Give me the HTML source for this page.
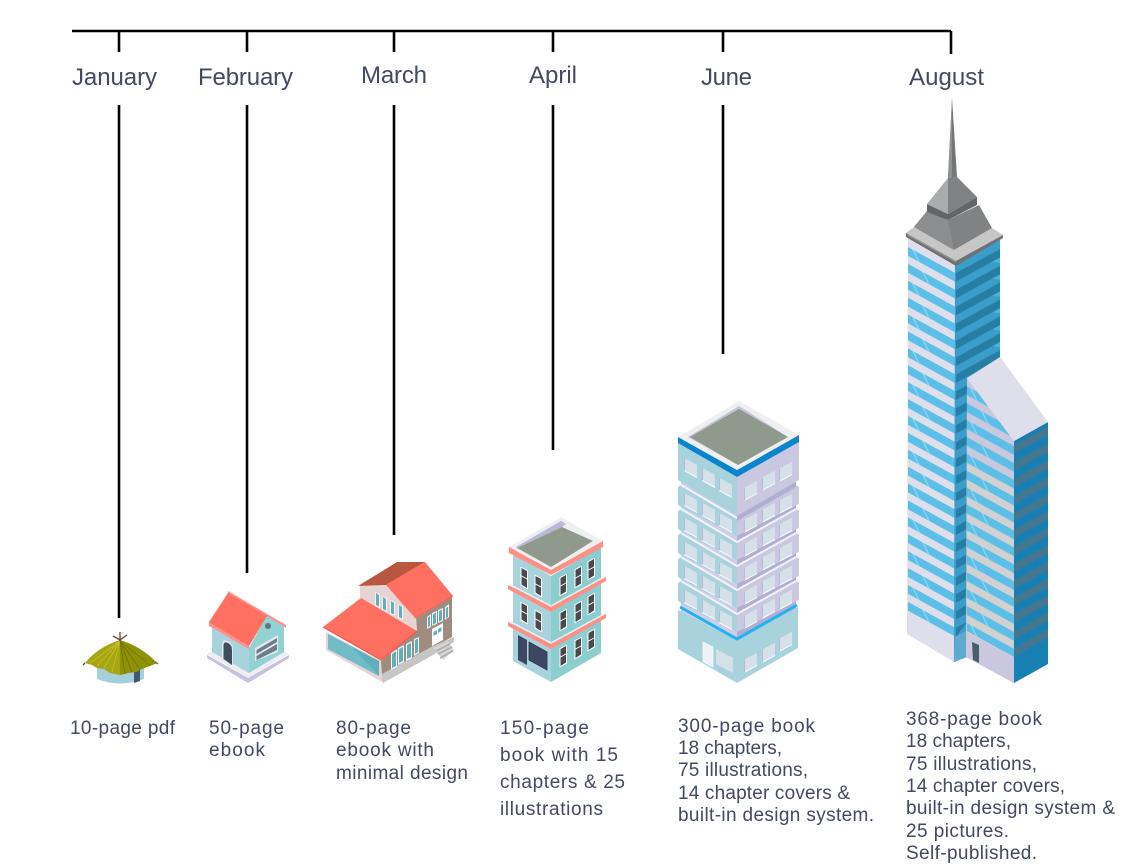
<!DOCTYPE html>
<html><head><meta charset="utf-8"><style>
html,body{margin:0;padding:0;background:#fff}
svg{display:block}
text{font-family:"Liberation Sans",sans-serif;fill:#434a60}
.m{font-size:24px}.d{font-size:19px}
</style></head><body>
<svg width="1132" height="868" viewBox="0 0 1132 868" xmlns="http://www.w3.org/2000/svg">
<defs>
<pattern id="pL" patternUnits="userSpaceOnUse" width="48" height="33.8" patternTransform="translate(908,247) skewY(28.8)">
<rect width="48" height="33.8" fill="#dfdfeb"/>
<rect y="0" width="48" height="8.8" fill="#5bbfe8"/><rect y="16.9" width="48" height="8.8" fill="#5bbfe8"/>
<polygon points="4,0 6,0 12,8.8 10,8.8" fill="#8bd6f0"/><polygon points="14,16.9 16,16.9 22,25.7 20,25.7" fill="#8bd6f0"/>
</pattern>
<pattern id="pR" patternUnits="userSpaceOnUse" width="44" height="16.9" patternTransform="translate(956,273) skewY(-28.8)">
<rect width="44" height="16.9" fill="#3a9dca"/><rect width="44" height="8.5" fill="#277ea5"/>
<polygon points="37,9 44,9 44,14" fill="#5aaed4"/>
</pattern>
<pattern id="pW" patternUnits="userSpaceOnUse" width="48" height="33.8" patternTransform="translate(967,623) skewY(28.8)">
<rect width="48" height="33.8" fill="#fff" fill-opacity="0"/>
<rect y="0" width="48" height="8.8" fill="#5bbfe8"/><rect y="16.9" width="48" height="8.8" fill="#5bbfe8"/>
<polygon points="3,0 5,0 11,8.8 9,8.8" fill="#8bd6f0"/><polygon points="14,16.9 16,16.9 22,25.7 20,25.7" fill="#8bd6f0"/>
</pattern>
<pattern id="pWR" patternUnits="userSpaceOnUse" width="34" height="16.9" patternTransform="translate(1014,648) skewY(-28.8)">
<rect width="34" height="16.9" fill="#167fb4"/><rect width="34" height="8.5" fill="#44778f"/>
</pattern>
<g id="wl"><polygon points="-0.5,-0.5 7,3.5 7,22.5 -0.5,18.5" fill="#fff"/><polygon points="0.5,1 6,4 6,21 0.5,17.500" fill="#4a4a4e"/><polygon points="0.5,8.500 6,11.500 6,12.500 0.500,9.500" fill="#fff"/></g>
<g id="wr"><polygon points="-0.5,3.5 7,-0.5 7,18.5 -0.5,22.500" fill="#fff"/><polygon points="0.5,4 6,1 6,17.500 0.500,21" fill="#4a4a4e"/><polygon points="0.5,11.500 6,8.500 6,9.500 0.500,12.500" fill="#fff"/></g>
<g id="jl"><polygon points="0,0 13,7 13,20 0,13" fill="#fff"/><polygon points="0,0 13,7 13,19 0,12" fill="#d6e0e8"/><polygon points="0,0 1,0.5 1,12.500 0,12" fill="#b9b8d8"/></g>
<g id="jr"><polygon points="0,7 13,0 13,13 0,20" fill="#fff"/><polygon points="0,7 13,0 13,12 0,19" fill="#d6e0e8"/><polygon points="0,7 1,6.5 1,19 0,20" fill="#b9b8d8"/></g>
<g id="jw"><use href="#jl" x="684" y="458"/><use href="#jl" x="702" y="468"/><use href="#jl" x="719" y="478"/><use href="#jr" x="744" y="481"/><use href="#jr" x="762" y="471"/><use href="#jr" x="779" y="462"/></g>
<g id="fl"><polygon points="678,487 681,485 737,518 737,536 681,507 678,505" fill="#a8d3dc"/><polygon points="737,518 796,485 799,487 799,504 795,506 737,536" fill="#c9c8e0"/><polyline points="681,485 737,518 796,485" fill="none" stroke="#f2f2f6" stroke-width="2"/></g>
</defs>

<!-- timeline -->
<g stroke="#000" stroke-width="2.6" fill="none">
<path d="M72 31H951"/>
<path d="M119 31V52M247 31V52M394 31V52M553 31V52M723 31V52M951 31V54"/>
<path d="M119 105V618M247 105V573M394 105V535M553 105V450M723 105V354"/>
</g>

<!-- months -->
<text class="m" x="72" y="85" textLength="85">January</text>
<text class="m" x="198" y="85" textLength="95">February</text>
<text class="m" x="361" y="83" textLength="66">March</text>
<text class="m" x="529" y="83" textLength="48">April</text>
<text class="m" x="701" y="85" textLength="51">June</text>
<text class="m" x="909" y="85" textLength="75">August</text>

<!-- hut -->
<g>
<path d="M97 668V679Q120 688 144 679V668Z" fill="#a5d0db"/>
<polygon points="134,670 140,667 140,681 134,683" fill="#44566a"/>
<path d="M120 640Q98 647 85 663L92 665L97 668L104 669L110 673L120 675L128 673L136 672L144 668L150 666L157 663Q142 647 120 640Z" fill="#a6a512"/>
<path d="M120 640L120 675L128 673L136 672L144 668L150 666L157 663Q142 647 120 640Z" fill="#8f9208"/>
<g stroke="#c4c22a" stroke-width=".8"><path d="M120 641L90 663M120 641L97 666M120 641L104 668M120 641L112 672"/></g>
<g stroke="#6f7400" stroke-width=".8"><path d="M120 641L125 674M120 641L132 672M120 641L140 669M120 641L150 665"/></g>
<g stroke="#6b4a3a" stroke-width="1.300" fill="none"><path d="M120 632V641M113 636L120 640L127 635M85 663L83 665M155 662L158 664"/></g>
</g>

<!-- february house -->
<g>
<polygon points="207,658 248,683 289,658 289,655 248,678 207,655" fill="#c5c2dc"/>
<polygon points="207,654 248,678 289,654 248,632" fill="#eeeef2"/>
<polygon points="212,628 249,648 249,673 212,652" fill="#a8d3dc"/>
<polygon points="249,648 267,615 284,627 284,652 249,673" fill="#92d2d2"/>
<path d="M222 660V644Q223 639 228 641Q233 644 233 649V666Z" fill="#e7e6ef"/>
<path d="M223.500 659V645Q224 641 228 643Q232 645 232 650V665Z" fill="#3d4f5e"/>
<polygon points="255,648 278,635 278,652 255,661" fill="#e7e6ef"/>
<polygon points="256.500,650 277,638 277,642 256.500,654" fill="#6d7d8c"/>
<polygon points="256.500,656 277,644 277,650 256.500,660" fill="#6d7d8c"/>
<circle cx="268" cy="626" r="3" fill="#5f7684"/>
<polygon points="228,591 286,625 286,628 267,616 228,594" fill="#ff8f8a"/>
<polygon points="209,621 249,645 249,649 209,626" fill="#ff8f8a"/>
<polygon points="228,593 267,616 249,646 209,622" fill="#ff7061"/>
</g>

<!-- march house -->
<g>
<polygon points="326,632 381,661 384,683 326,650" fill="#e8d3d3"/>
<polygon points="328,634 379,661 379,676 328,649" fill="#5fb0bd"/>
<polygon points="328,634 352,647 379,676 328,649" fill="#79c3cc" opacity=".7"/>
<polygon points="381,661 417,631 416,618 452,597 452,637 382,675" fill="#a08c7f"/>
<polygon points="382,674 433,646 454,637 454,642 433,655 383,683" fill="#c6c6c6"/>
<polygon points="433,648 448,641 454,650 443,660" fill="#d4d4d4"/>
<g stroke="#a9a9a9" stroke-width="1.300"><path d="M436 651L450 644M438 654L452 647M440 658L453 651"/></g>
<polygon points="432,629 443,623 443,640 432,646" fill="#fff"/>
<polygon points="433.500,632 437,630 437,634 433.500,636" fill="#5fb0bd"/><polygon points="438,629 441.500,627 441.500,631 438,633" fill="#5fb0bd"/>
<g fill="#eef3f4"><polygon points="427,617 431,614 431,627 427,629"/><polygon points="432,613 437,611 437,624 432,626"/><polygon points="438,610 443,608 443,621 438,623"/><polygon points="445,607 449,604 449,617 445,620"/></g>
<g fill="#5fb0bd"><polygon points="428,617.500 430,616 430,626 428,627.500"/><polygon points="433,614 436,612.500 436,623 433,624.500"/><polygon points="439,611 442,609.500 442,620 439,621.500"/><polygon points="446,608 448,606.500 448,617 446,618.500"/></g>
<polygon points="360,586 386,585 416,618 417,631 360,598" fill="#e8d3d3"/>
<polygon points="358,586 397,562 425,562 386,585" fill="#b9563f"/>
<polygon points="425,562 453,596 415,618 386,585" fill="#ff7061"/>
<polyline points="415,618 453,596" fill="none" stroke="#f5574a" stroke-width="1"/>
<g fill="#f2f4f5"><polygon points="375,592 380,594 380,608 375,606"/><polygon points="382,596 387,598 387,612 382,610"/><polygon points="390,600 395,602 395,616 390,614"/><polygon points="398,604 403,606 403,620 398,618"/></g>
<g fill="#5fb0bd"><polygon points="376,593 379,595 379,606.500 376,605"/><polygon points="383,597 386,599 386,610.500 383,609"/><polygon points="391,601 394,603 394,614.500 391,613"/><polygon points="399,605 402,607 402,618.500 399,617"/></g>
<g fill="#eef3f4"><polygon points="391,653 397,649 397,667 391,670"/><polygon points="398,648 404,645 404,662 398,665"/><polygon points="406,644 412,641 412,658 406,661"/><polygon points="414,639 419,637 419,653 414,656"/></g>
<g fill="#5fb0bd"><polygon points="392,654 396,651 396,666 392,668"/><polygon points="399,649 403,647 403,661 399,663"/><polygon points="407,645 411,643 411,657 407,659"/><polygon points="415,640 418,638.500 418,652 415,654"/></g>
<polygon points="361,598 417,631 381,660 323,627" fill="#ff7061"/>
<polyline points="323,627 381,660 417,631" fill="none" stroke="#f5574a" stroke-width="1.200"/>
</g>

<!-- april building -->
<g>
<polygon points="513,553 551,576 551,682 513,661" fill="#a8d3dc"/>
<polygon points="551,576 601,547 601,653 551,682" fill="#8ccdd0"/>
<polygon points="561,517 603,541 551,570 509,547" fill="#efeff1"/>
<polygon points="561,521 566,524 562,527 517,548 516,547" fill="#b9b8d8"/>
<polygon points="562,527 593,541 551,567 517,548" fill="#8f9a8d"/>
<polygon points="509,547 551,570 603,541 603,547 551,575 509,553" fill="#ff8f85"/>
<g id="ab"><polygon points="508,585 551,607 606,577 606,581 551,612 508,589" fill="#ff8f85"/><polyline points="509,584 551,606 606,576" fill="none" stroke="#eee" stroke-width="1.500"/></g>
<use href="#ab" y="37"/>
<use href="#wl" x="521" y="567"/><use href="#wl" x="535" y="575"/>
<use href="#wl" x="521" y="602"/><use href="#wl" x="535" y="610"/>
<use href="#wr" x="560" y="574"/><use href="#wr" x="575" y="566"/><use href="#wr" x="588" y="558"/>
<use href="#wr" x="560" y="609"/><use href="#wr" x="575" y="601"/><use href="#wr" x="588" y="593"/>
<use href="#wr" x="560" y="645"/><use href="#wr" x="575" y="637"/><use href="#wr" x="588" y="629"/>
<polygon points="518,635 527,640 527,665 518,660" fill="#3e4761"/>
<polygon points="529,642 547,652 547,670 529,660" fill="#3e4761" stroke="#2c3347" stroke-width=".8"/>
</g>

<!-- june building -->
<g>
<polygon points="681,480 737,512 737,645 681,615" fill="#cfcdea"/>
<polygon points="737,512 796,480 796,612 737,645" fill="#b0afd0"/>
<polygon points="678,610 737,640 798,607 798,648 737,683 678,649" fill="#a8d3dc"/>
<use href="#fl" y="96"/><use href="#fl" y="72"/><use href="#fl" y="48"/><use href="#fl" y="24"/><use href="#fl"/>
<polyline points="680,607 737,639 797,605" fill="none" stroke="#1eb4f4" stroke-width="3"/>
<polygon points="678,443 737,477 737,516 678,480" fill="#a8d3dc"/>
<polygon points="737,477 799,442 799,480 737,516" fill="#c9c8e0"/>
<polygon points="737,516 796,483 796,487 737,521" fill="#b0afd0"/>
<polygon points="739,401 799,435 737,470 678,437" fill="#efeff2"/>
<polygon points="739,406 788,437 738,465 688,437" fill="#c4c3d6"/>
<polygon points="739,409 788,437 738,465 690,437" fill="#8f9a8d"/>
<polygon points="678,437 737,470 799,435 799,442 737,477 678,443" fill="#0a84cf"/>
<polygon points="683,436 737,467 795,434 799,435 737,470 678,437" fill="#efeff2"/>
<use href="#jw"/>
<use href="#jl" x="684" y="493"/><use href="#jl" x="702" y="503"/><use href="#jl" x="719" y="513"/>
<use href="#jl" x="684" y="518"/><use href="#jl" x="702" y="528"/><use href="#jl" x="719" y="538"/>
<use href="#jl" x="684" y="542"/><use href="#jl" x="702" y="552"/><use href="#jl" x="719" y="562"/>
<use href="#jl" x="684" y="566"/><use href="#jl" x="702" y="576"/><use href="#jl" x="719" y="586"/>
<use href="#jl" x="684" y="590"/><use href="#jl" x="702" y="600"/><use href="#jl" x="719" y="610"/>
<use href="#jr" x="744" y="513"/><use href="#jr" x="762" y="503"/><use href="#jr" x="779" y="494"/>
<use href="#jr" x="744" y="537"/><use href="#jr" x="762" y="527"/><use href="#jr" x="779" y="518"/>
<use href="#jr" x="744" y="561"/><use href="#jr" x="762" y="551"/><use href="#jr" x="779" y="542"/>
<use href="#jr" x="744" y="585"/><use href="#jr" x="762" y="575"/><use href="#jr" x="779" y="566"/>
<use href="#jr" x="744" y="609"/><use href="#jr" x="762" y="599"/><use href="#jr" x="779" y="590"/>
<use href="#jr" x="744" y="653"/><use href="#jr" x="762" y="643"/><use href="#jr" x="779" y="632"/>
<polygon points="703,642 713,647 713,667 703,662" fill="#eef1f4" stroke="#fff" stroke-width=".6"/>
<polygon points="716,649 733,658 733,673 716,664" fill="#d6e0e8"/>
</g>

<!-- august tower -->
<g>
<polygon points="908,237 956,263 956,662 954,662 907,634" fill="#dfdfeb"/>
<polygon points="908,247 956,273 956,637 908,611" fill="url(#pL)"/>
<polygon points="956,263 1000,238 1000,358 967,378 967,657 954,662 955,263" fill="#3a9dca"/>
<polygon points="956,273 1000,249 1000,358 967,378 967,622 956,637" fill="url(#pR)"/>
<polygon points="955,637 966,631 966,657 954,662" fill="#5eaad0"/>
<!-- wing -->
<polygon points="967,378 1014,441 1014,683 966,657" fill="#d1d1d1"/>
<polygon points="967,378 1014,441 1014,488 967,462" fill="#c9c8df"/>
<polygon points="966,632 1014,658 1014,683 966,657" fill="#c9c8df"/>
<polygon points="967,378 1014,441 1014,657 967,631" fill="url(#pW)"/>
<polygon points="972,642 979,645 979,663 973,660" fill="#4a5f6c"/>
<polygon points="1014,441 1048,422 1048,664 1014,683" fill="#167fb4"/>
<polygon points="1014,443 1048,424 1048,639 1014,657" fill="url(#pWR)"/>
<polygon points="967,378 1000,357 1048,422 1014,441" fill="#dfdfeb"/>
<!-- cap -->
<polygon points="906,233 956,260 1003,235 1003,238 956,266 906,237" fill="#6f7172"/>
<polygon points="906,233 914,227 954,250 992,228 1003,235 956,261" fill="#c6c6c7"/>
<polyline points="908,235 956,262" fill="none" stroke="#9a9a9b" stroke-width="1"/>
<polygon points="927,211 948,220 979,205 992,228 954,250 914,227" fill="#808283"/>
<polygon points="927,211 948,220 954,250 914,227" fill="#8b8d8e"/>
<polygon points="927,204 948,214 977,197 977,205 948,220 927,212" fill="#636566"/>
<polygon points="948,178 948,214 927,204" fill="#a9abae"/>
<polygon points="948,178 957,177 977,197 948,214" fill="#7f8182"/>
<polygon points="952,98 948,178 957,177" fill="#747677"/>
<polygon points="952,98 948,178 952,178" fill="#8f9192"/>
</g>

<!-- descriptions -->
<g>
<text class="d" x="70" y="734" textLength="105">10-page pdf</text>
<text class="d" x="209" y="734" textLength="75">50-page</text>
<text class="d" x="209" y="756" textLength="56">ebook</text>
<text class="d" x="336" y="734" textLength="75">80-page</text>
<text class="d" x="336" y="756" textLength="98">ebook with</text>
<text class="d" x="336" y="779" textLength="132">minimal design</text>
<text class="d" x="500" y="734" textLength="89">150-page</text>
<text class="d" x="500" y="761" textLength="118">book with 15</text>
<text class="d" x="500" y="788" textLength="125">chapters &amp; 25</text>
<text class="d" x="500" y="815" textLength="103">illustrations</text>
<text class="d" x="678" y="732" textLength="137">300-page book</text>
<text class="d" x="678" y="754" textLength="104">18 chapters,</text>
<text class="d" x="678" y="776" textLength="130">75 illustrations,</text>
<text class="d" x="678" y="799" textLength="172">14 chapter covers &amp;</text>
<text class="d" x="678" y="821" textLength="196">built-in design system.</text>
<text class="d" x="906" y="725" textLength="136">368-page book</text>
<text class="d" x="906" y="747" textLength="105">18 chapters,</text>
<text class="d" x="906" y="770" textLength="131">75 illustrations,</text>
<text class="d" x="906" y="792" textLength="159">14 chapter covers,</text>
<text class="d" x="906" y="814" textLength="209">built-in design system &amp;</text>
<text class="d" x="906" y="837" textLength="103">25 pictures.</text>
<text class="d" x="906" y="859" textLength="131">Self-published.</text>
</g>
</svg>
</body></html>
